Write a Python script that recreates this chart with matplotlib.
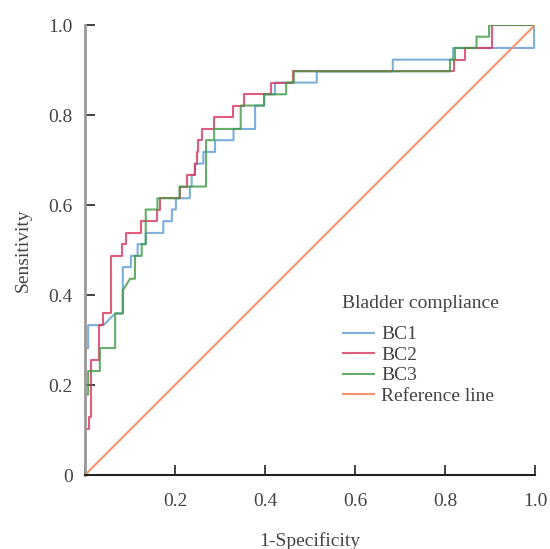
import matplotlib.pyplot as plt

# ROC vertices (1-specificity, sensitivity)
bc1_fpr = [0, 0, 0.007, 0.007, 0.041, 0.067, 0.084, 0.084, 0.102, 0.102, 0.117, 0.117,
           0.135, 0.135, 0.174, 0.174, 0.193, 0.193, 0.202, 0.202, 0.233, 0.233, 0.237,
           0.237, 0.244, 0.244, 0.263, 0.263, 0.289, 0.289, 0.33, 0.33, 0.378, 0.378,
           0.398, 0.398, 0.422, 0.422, 0.515, 0.515, 0.684, 0.684, 0.818, 0.818, 0.998,
           0.998, 1.0]
bc1_tpr = [0, 0.282, 0.282, 0.333, 0.333, 0.359, 0.359, 0.462, 0.462, 0.487, 0.487, 0.513,
           0.513, 0.538, 0.538, 0.564, 0.564, 0.59, 0.59, 0.615, 0.615, 0.641, 0.641,
           0.667, 0.667, 0.692, 0.692, 0.718, 0.718, 0.744, 0.744, 0.769, 0.769, 0.821,
           0.821, 0.846, 0.846, 0.872, 0.872, 0.897, 0.897, 0.923, 0.923, 0.949, 0.949,
           1.0, 1.0]

bc2_fpr = [0, 0, 0.008, 0.008, 0.014, 0.014, 0.030, 0.030, 0.040, 0.040, 0.058, 0.058,
           0.083, 0.083, 0.09, 0.09, 0.124, 0.124, 0.159, 0.159, 0.167, 0.167, 0.21, 0.21,
           0.227, 0.227, 0.244, 0.244, 0.248, 0.248, 0.252, 0.252, 0.261, 0.261, 0.287,
           0.287, 0.328, 0.328, 0.354, 0.354, 0.413, 0.413, 0.463, 0.463, 0.819, 0.819,
           0.844, 0.844, 0.904, 0.904, 1.0]
bc2_tpr = [0, 0.103, 0.103, 0.128, 0.128, 0.256, 0.256, 0.333, 0.333, 0.359, 0.359, 0.487,
           0.487, 0.513, 0.513, 0.538, 0.538, 0.564, 0.564, 0.59, 0.59, 0.615, 0.615, 0.641,
           0.641, 0.667, 0.667, 0.692, 0.692, 0.718, 0.718, 0.744, 0.744, 0.769, 0.769,
           0.795, 0.795, 0.821, 0.821, 0.846, 0.846, 0.872, 0.872, 0.897, 0.897, 0.923,
           0.923, 0.949, 0.949, 1.0, 1.0]

bc3_fpr = [0, 0, 0.007, 0.007, 0.033, 0.033, 0.067, 0.067, 0.084, 0.084, 0.1, 0.111, 0.111,
           0.126, 0.126, 0.135, 0.135, 0.161, 0.161, 0.21, 0.21, 0.269, 0.269, 0.287, 0.287,
           0.346, 0.346, 0.398, 0.398, 0.447, 0.447, 0.464, 0.464, 0.811, 0.811, 0.822,
           0.822, 0.87, 0.87, 0.898, 0.898, 1.0]
bc3_tpr = [0, 0.179, 0.179, 0.231, 0.231, 0.282, 0.282, 0.359, 0.359, 0.41, 0.436, 0.436,
           0.487, 0.487, 0.513, 0.513, 0.59, 0.59, 0.615, 0.615, 0.641, 0.641, 0.744, 0.744,
           0.769, 0.769, 0.821, 0.821, 0.846, 0.846, 0.872, 0.872, 0.897, 0.897, 0.923,
           0.923, 0.949, 0.949, 0.974, 0.974, 1.0, 1.0]

ref_x = [0, 1]
ref_y = [0, 1]

series = [
    ("BC1", bc1_fpr, bc1_tpr, "#5b9bd5"),
    ("BC2", bc2_fpr, bc2_tpr, "#d9345c"),
    ("BC3", bc3_fpr, bc3_tpr, "#3f9a45"),
]

plt.rcParams["font.family"] = ["Liberation Serif", "DejaVu Serif"]
text_color = "#444444"

fig = plt.figure(figsize=(5.5, 5.49), dpi=100)
ax = fig.add_axes([85 / 550, 74 / 549, 450 / 550, 450 / 549])

for label, xs, ys, color in series:
    ax.plot(xs, ys, color=color, lw=1.5, alpha=0.8, label=label)
ax.plot(ref_x, ref_y, color="#f4936e", lw=1.5, label="Reference line")

ax.set_xlim(0, 1)
ax.set_ylim(0, 1)
ax.set_xticks([0, 0.2, 0.4, 0.6, 0.8, 1.0])
ax.set_xticklabels(["", "0.2", "0.4", "0.6", "0.8", "1.0"])
ax.set_yticks([0, 0.2, 0.4, 0.6, 0.8, 1.0])
ax.set_yticklabels(["0", "0.2", "0.4", "0.6", "0.8", "1.0"])
ax.tick_params(axis="both", direction="in", length=7, width=1.2, color="#222222",
               labelsize=14, labelcolor=text_color)
ax.tick_params(axis="x", pad=13)
ax.tick_params(axis="y", pad=9)

for side in ("top", "right"):
    ax.spines[side].set_visible(False)
ax.spines["left"].set_color("#999999")
ax.spines["left"].set_linewidth(2)
ax.spines["bottom"].set_color("#222222")
ax.spines["bottom"].set_linewidth(1.5)

ax.set_xlabel("1-Specificity", fontsize=14, color=text_color, labelpad=16)
ax.set_ylabel("Sensitivity", fontsize=14, color=text_color, labelpad=12)

# legend title drawn separately so the gap under it matches the reference
ax.text(0.571, 0.38, "Bladder compliance", transform=ax.transAxes, fontsize=14,
        color=text_color, ha="left", va="center")
leg = ax.legend(loc="upper left", bbox_to_anchor=(0.555, 0.349),
                frameon=False, fontsize=14, handlelength=1.6,
                handletextpad=0.4, labelspacing=0.15, borderaxespad=0)
for t in leg.get_texts():
    t.set_color(text_color)

fig.savefig("out.png", dpi=100)
